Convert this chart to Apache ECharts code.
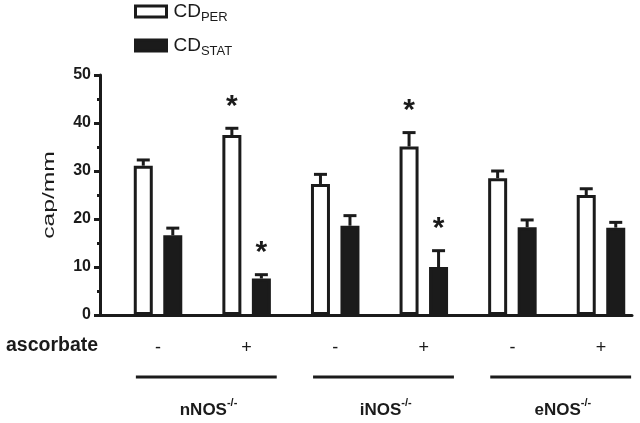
<!DOCTYPE html>
<html>
<head>
<meta charset="utf-8">
<script src="https://cdn.jsdelivr.net/npm/echarts@6/dist/echarts.min.js"></script>
<style>html,body{margin:0;padding:0;background:#fff}#c{width:640px;height:423px}</style>
</head>
<body>
<div id="c"></div>
<script>
// ---- data ----
const groups = ['nNOS', 'iNOS', 'eNOS'];
const ascorbate = ['-', '+', '-', '+', '-', '+'];
const cdPer = [31.1, 37.5, 27.3, 35.1, 28.5, 25.0];
const cdPerSem = [1.2, 1.4, 2.0, 2.9, 1.5, 1.3];
const cdStat = [16.6, 7.6, 18.6, 10.0, 18.3, 18.2];
const cdStatSem = [1.5, 0.8, 2.1, 3.4, 1.5, 1.1];
const cdPerSig = [0, 1, 0, 1, 0, 0];
const cdStatSig = [0, 1, 0, 1, 0, 0];
const yMin = 0, yMax = 50, yStep = 10;

// ---- layout constants ----
const INK = '#1b1b1b';
const FONT = 'Liberation Sans, Arial, sans-serif';
const half = 0.1665; // offset of each bar from pair centre (in pair units)

const perData = cdPer.map((v, i) => [i - half, v]);
const statData = cdStat.map((v, i) => [i + half, v]);
const perErr = cdPer.map((v, i) => [i - half, v, cdPerSem[i], cdPerSig[i]]);
const statErr = cdStat.map((v, i) => [i + half, v, cdStatSem[i], cdStatSig[i]]);

function renderErr(params, api) {
  const x = api.value(0), v = api.value(1), s = api.value(2), sig = api.value(3);
  const p0 = api.coord([x, v]);
  const p1 = api.coord([x, v + s]);
  const children = [
    {type: 'line', shape: {x1: p0[0], y1: p0[1], x2: p1[0], y2: p1[1]}, style: {stroke: INK, lineWidth: 3}},
    {type: 'line', shape: {x1: p1[0] - 6.5, y1: p1[1], x2: p1[0] + 6.5, y2: p1[1]}, style: {stroke: INK, lineWidth: 3}}
  ];
  if (sig) {
    children.push({type: 'text', x: p1[0], y: p1[1] - 22,
      style: {text: '*', font: 'bold 30px ' + FONT, fill: INK, align: 'center', verticalAlign: 'middle'}});
  }
  return {type: 'group', children};
}

function renderGroup(params, api) {
  const g = api.value(0);
  const a = api.coord([2 * g - 0.25, 0]);
  const b = api.coord([2 * g + 1.34, 0]);
  const c = api.coord([2 * g + 0.57, 0]);
  return {type: 'group', children: [
    {type: 'line', shape: {x1: a[0], y1: a[1] + 62, x2: b[0], y2: b[1] + 62}, style: {stroke: INK, lineWidth: 3}},
    {type: 'text', x: c[0], y: c[1] + 95, style: {
      text: '{n|' + groups[g] + '}{s|-/-}',
      align: 'center', verticalAlign: 'middle',
      rich: {
        n: {font: 'bold 17px ' + FONT, fill: INK, lineHeight: 20},
        s: {font: 'bold 11px ' + FONT, fill: INK, lineHeight: 11, padding: [0, 0, 14, 0]}
      }
    }}
  ]};
}

const chart = echarts.init(document.getElementById('c'), null, {renderer: 'canvas'});
chart.setOption({
  animation: false,
  backgroundColor: '#fff',
  grid: {left: 100, right: 8, top: 75, bottom: 108, containLabel: false},
  legend: {
    orient: 'vertical', left: 129, top: -6, itemGap: 9,
    itemWidth: 31, itemHeight: 11, icon: 'rect',
    data: [
      {name: 'CDPER', itemStyle: {color: '#fff', borderColor: INK, borderWidth: 3}},
      {name: 'CDSTAT', itemStyle: {color: INK, borderColor: INK, borderWidth: 3}}
    ],
    formatter: n => '{a|CD}{b|' + n.slice(2) + '}',
    textStyle: {
      rich: {
        a: {fontFamily: FONT, fontSize: 19, color: INK, lineHeight: 22, padding: [0, 0, 0, 2]},
        b: {fontFamily: FONT, fontSize: 13, color: INK, lineHeight: 13, padding: [12, 0, 0, 0]}
      }
    }
  },
  xAxis: {
    type: 'value', min: -0.655, max: 5.35,
    splitLine: {show: false},
    axisLine: {show: true, onZero: false, lineStyle: {color: INK, width: 3}},
    axisTick: {show: false},
    axisLabel: {
      customValues: [0, 1, 2, 3, 4, 5],
      formatter: v => ascorbate[Math.round(v)],
      margin: 24, fontFamily: FONT, fontSize: 18, color: INK
    }
  },
  yAxis: {
    type: 'value', min: yMin, max: yMax, interval: yStep,
    splitLine: {show: false},
    axisLine: {show: true, onZero: false, lineStyle: {color: INK, width: 3}},
    axisTick: {show: true, length: 6, lineStyle: {color: INK, width: 3}},
    minorTick: {show: true, splitNumber: 2, length: 3, lineStyle: {color: INK, width: 3}},
    axisLabel: {margin: 9, fontFamily: FONT, fontSize: 16, fontWeight: 'bold', color: INK}
  },
  graphic: [
    {type: 'text', left: 6, top: 336, style: {text: 'ascorbate', font: 'bold 19.5px ' + FONT, fill: INK}},
    {type: 'text', x: 49, y: 195, rotation: Math.PI / 2, scaleX: 1.45,
      style: {text: 'cap/mm', font: '17px ' + FONT, fill: INK, align: 'center', verticalAlign: 'middle'}}
  ],
  series: [
    {name: 'CDPER', type: 'bar', data: perData, barWidth: 19, barGap: '-100%',
      itemStyle: {color: '#fff', borderColor: INK, borderWidth: 3}},
    {name: 'CDSTAT', type: 'bar', data: statData, barWidth: 19, barGap: '-100%',
      itemStyle: {color: INK, borderColor: INK, borderWidth: 3}},
    {name: 'errPer', type: 'custom', data: perErr, renderItem: renderErr, clip: false, z: 3,
      encode: {x: 0, y: 1}},
    {name: 'errStat', type: 'custom', data: statErr, renderItem: renderErr, clip: false, z: 3,
      encode: {x: 0, y: 1}},
    {name: 'groups', type: 'custom', data: [[0], [1], [2]], renderItem: renderGroup, clip: false, z: 3,
      encode: {x: 0}}
  ]
});
</script>
</body>
</html>
